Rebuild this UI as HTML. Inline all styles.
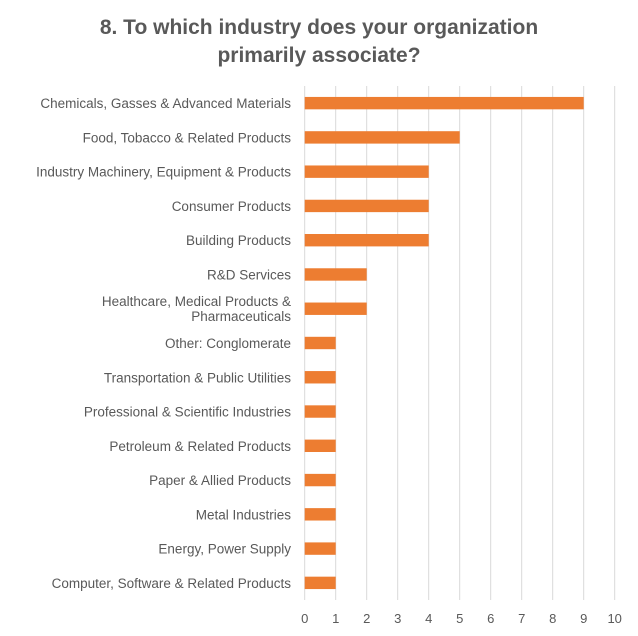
<!DOCTYPE html>
<html><head><meta charset="utf-8"><style>
body{margin:0;background:#fff;}
svg{display:block;font-family:"Liberation Sans",Arial,sans-serif;}
</style></head><body>
<svg id="chart" width="638" height="636" viewBox="0 0 638 636">
<text x="319" y="34" text-anchor="middle" font-size="21" font-weight="bold" fill="#595959">8. To which industry does your organization</text>
<text x="319" y="62" text-anchor="middle" font-size="21" font-weight="bold" fill="#595959">primarily associate?</text>
<g id="grid"></g><g id="bars"></g><g id="ylabels"></g><g id="xlabels"></g>
</svg>
<script>
const categories=[["Chemicals, Gasses & Advanced Materials"],["Food, Tobacco & Related Products"],["Industry Machinery, Equipment & Products"],["Consumer Products"],["Building Products"],["R&D Services"],["Healthcare, Medical Products &","Pharmaceuticals"],["Other: Conglomerate"],["Transportation & Public Utilities"],["Professional & Scientific Industries"],["Petroleum & Related Products"],["Paper & Allied Products"],["Metal Industries"],["Energy, Power Supply"],["Computer, Software & Related Products"]];
const values=[9,5,4,4,4,2,2,1,1,1,1,1,1,1,1];
const ticks=[0,1,2,3,4,5,6,7,8,9,10];
const NS="http://www.w3.org/2000/svg";
const xZero=304.7,unit=31.0,yTop=86,yBottom=600;
const band=(yBottom-yTop)/categories.length;
const xs=v=>xZero+v*unit;
const yc=i=>yTop+band*(i+0.5);
function mk(t,a,p){const e=document.createElementNS(NS,t);for(const k in a)e.setAttribute(k,a[k]);p.appendChild(e);return e;}
const gGrid=document.getElementById('grid'),gBars=document.getElementById('bars'),gY=document.getElementById('ylabels'),gX=document.getElementById('xlabels');
ticks.forEach(t=>{
 const l=mk('line',{x1:xs(t),x2:xs(t),y1:yTop,y2:yBottom,stroke:'#d9d9d9','stroke-width':1},gGrid);
 
 
 const tx=mk('text',{x:xs(t),y:623,'text-anchor':'middle','font-size':13,fill:'#595959'},gX);
 tx.textContent=t;
 
 
});
categories.forEach((c,i)=>{
 const r=mk('rect',{x:xs(0),y:yc(i)-6.2,width:xs(values[i])-xs(0),height:12.4,fill:'#ED7D31'},gBars);
 
 
 c.forEach((line,j)=>{
  const y=yc(i)+5-(c.length-1)*7.5+j*15;
  const t=mk('text',{x:291,y:y,'text-anchor':'end','font-size':13.5,fill:'#595959'},gY);
  t.textContent=line;
  
  
 });
});
</script>
</body></html>
